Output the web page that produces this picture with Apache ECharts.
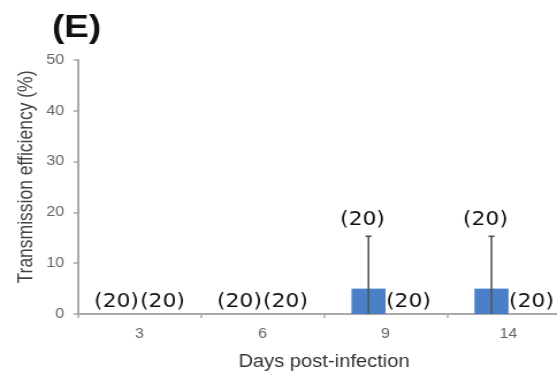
<!DOCTYPE html>
<html>
<head>
<meta charset="utf-8">
<script src="https://cdn.jsdelivr.net/npm/echarts@6/dist/echarts.min.js"></script>
<style>
  html, body { margin: 0; padding: 0; background: #fff; overflow: hidden; width: 557px; height: 376px; }
  /* chart is laid out narrower and widened horizontally, giving the wide lettering;
     the canvas runs past the right edge so the last category is cut like the axis */
  #chart { width: 520px; height: 376px; transform: scaleX(1.1508); transform-origin: 0 0; }
</style>
</head>
<body>
<div id="chart"></div>
<script>
// Days post-infection (categories)
const days = ['3', '6', '9', '14'];
// First group: mean transmission efficiency (%) and its standard deviation
const groupAMean = [0, 0, 5, 5];
const groupASd = [0, 0, 10.3, 10.3];
const groupAN = [20, 20, 20, 20];
// Second group: mean transmission efficiency (%)
const groupBMean = [0, 0, 0, 0];
const groupBN = [20, 20, 20, 20];
// Y axis ticks
const yMin = 0, yMax = 50, yStep = 10;

const SX = 557 / 484;            // horizontal widening factor
const ux = px => px / SX;        // screen px -> layout px
const BAR_W = ux(34);
const AXIS_COLOR = '#a9a9a9';
const LABEL_FONT = { fontFamily: 'DejaVu Sans', fontSize: 19, color: '#111' };

const chart = echarts.init(document.getElementById('chart'), null, { renderer: 'canvas' });

const errorData = days.map((d, i) => [i, groupAMean[i], groupASd[i], groupAN[i]]);

chart.setOption({
  animation: false,
  grid: { left: ux(78), width: ux(492), top: 60, height: 259.5, containLabel: false },
  xAxis: {
    type: 'category',
    data: days,
    axisLine: { lineStyle: { color: AXIS_COLOR, width: 2 } },
    axisTick: { show: true, length: 4, lineStyle: { color: AXIS_COLOR, width: 1.5 } },
    axisLabel: { color: '#666', fontSize: 14, fontFamily: 'Liberation Sans', margin: 13 },
    name: 'Days post-infection',
    nameLocation: 'middle',
    nameGap: 39,
    nameTextStyle: { color: '#333', fontSize: 17.5, fontFamily: 'Liberation Sans' }
  },
  yAxis: {
    type: 'value',
    min: yMin, max: yMax, interval: yStep,
    splitLine: { show: false },
    axisLine: { show: true, lineStyle: { color: AXIS_COLOR, width: 2 } },
    axisTick: { show: true, length: 4, lineStyle: { color: AXIS_COLOR, width: 1.5 } },
    axisLabel: { color: '#666', fontSize: 14, fontFamily: 'Liberation Sans', margin: 12 }
  },
  graphic: [
    {
      type: 'text', left: ux(52), top: 12,
      style: { text: '(E)', font: 'bold 32px "Liberation Sans", Arial', fill: '#111' }
    },
    {
      type: 'text', x: ux(27), y: 177, rotation: Math.PI / 2,
      style: {
        text: 'Transmission efficiency (%)', font: '17.5px "Liberation Sans", Arial',
        fill: '#444', align: 'center', verticalAlign: 'middle'
      }
    }
  ],
  series: [
    {
      type: 'bar',
      data: groupAMean,
      barWidth: BAR_W,
      barGap: '0%',
      itemStyle: { color: '#4a80c8' },
      z: 2
    },
    {
      type: 'bar',
      data: groupBMean.map((v, i) => ({ value: v, n: groupBN[i] })),
      barWidth: BAR_W,
      itemStyle: { color: '#c0504d' },
      label: {
        show: true, position: 'top', distance: 2, offset: [ux(6), 0],
        formatter: p => '(' + p.data.n + ')',
        ...LABEL_FONT
      },
      z: 2
    },
    {
      // error bars and sample-size labels for the first group
      type: 'custom',
      data: errorData,
      z: 5,
      renderItem: (params, api) => {
        const cat = api.value(0), mean = api.value(1), sd = api.value(2), n = api.value(3);
        const base = api.coord([cat, 0]);
        const cx = base[0] - BAR_W / 2;
        const top = api.coord([cat, mean + sd]);
        const low = api.coord([cat, Math.max(0, mean - sd)]);
        const children = [];
        if (sd > 0) {
          const ls = { stroke: '#555', lineWidth: 1.6 };
          children.push({ type: 'line', shape: { x1: cx, y1: low[1], x2: cx, y2: top[1] }, style: ls });
          children.push({ type: 'line', shape: { x1: cx - ux(3), y1: top[1], x2: cx + ux(3), y2: top[1] }, style: ls });
        }
        children.push({
          type: 'text',
          x: cx - ux(6),
          y: top[1] - (sd > 0 ? 7 : 2),
          style: {
            text: '(' + n + ')', align: 'center', verticalAlign: 'bottom',
            font: LABEL_FONT.fontSize + 'px "' + LABEL_FONT.fontFamily + '"', fill: LABEL_FONT.color
          }
        });
        return { type: 'group', children };
      }
    }
  ]
});
</script>
</body>
</html>
